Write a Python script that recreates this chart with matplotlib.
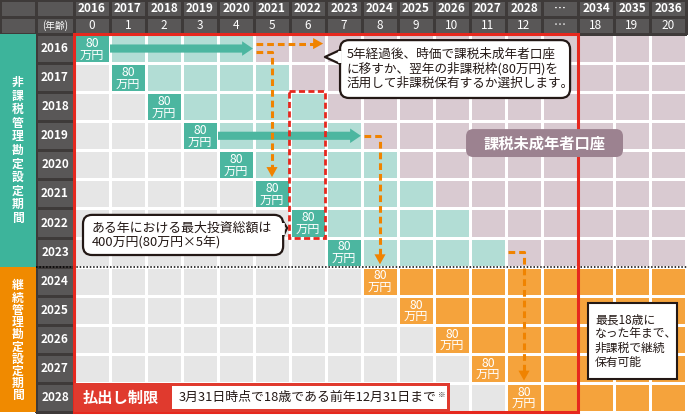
import numpy as np
import matplotlib
matplotlib.use("Agg")
import matplotlib.pyplot as plt
from matplotlib.colors import ListedColormap
from matplotlib.patches import Rectangle, FancyBboxPatch, Polygon, FancyArrow, FancyArrowPatch

plt.rcParams['font.family'] = ['Noto Sans CJK JP', 'DejaVu Sans']

# ------------------------------------------------------------------
# data
# ------------------------------------------------------------------
row_years = [2016, 2017, 2018, 2019, 2020, 2021, 2022, 2023, 2024, 2025, 2026, 2027, 2028]
col_years = ['2016', '2017', '2018', '2019', '2020', '2021', '2022', '2023', '2024',
             '2025', '2026', '2027', '2028', '…', '2034', '2035', '2036']
col_ages = ['0', '1', '2', '3', '4', '5', '6', '7', '8', '9', '10', '11', '12',
            '…', '18', '19', '20']
nisa_rows = [2016, 2017, 2018, 2019, 2020, 2021, 2022, 2023]      # 非課税管理勘定
rollover_rows = [2024, 2025, 2026, 2027, 2028]                     # 継続管理勘定
tax_free_years = 5
annual_limit = '80\n万円'
teal_arrow_rows = [2016, 2019]
rollover_pairs = [(2016, 2021), (2019, 2024), (2023, 2028)]
taxable_move_row = 2016
window_col = '2022'
window_rows = [2018, 2019, 2020, 2021, 2022]
age_limit_col = '2034'

# ------------------------------------------------------------------
# colours / layout
# ------------------------------------------------------------------
C_GRAY = '#e6e6e6'
C_TEAL_LIGHT = '#b2ddd5'
C_MAUVE = '#d9cad1'
C_ORANGE = '#f5a33c'
C_TEAL_BOX = '#4cb6a0'
C_HEAD = '#595757'
C_HEAD_LINE = '#3e3a39'
C_RED = '#e6281e'
C_DASH = '#f08300'
C_LABEL = '#9c8290'
C_INK = '#231815'

CW, RH = 36.0, 29.08          # cell size in px
X0, Y0 = 74.0, 34.0           # top-left of grid in px
W, H = 688, 415

n_rows, n_cols = len(row_years), len(col_years)

fig = plt.figure(figsize=(W / 100, H / 100), dpi=100)
ax = fig.add_axes([0, 0, 1, 1])
ax.set_xlim(-X0 / CW, (W - X0) / CW)
ax.set_ylim((H - Y0) / RH, -Y0 / RH)
ax.axis('off')

# cell states: 0 gray, 1 light teal, 2 mauve, 3 orange, 4 contribution box
state = np.zeros((n_rows, n_cols))
for y in nisa_rows:
    i = row_years.index(y)
    state[i, i] = 4
    state[i, i + 1:i + tax_free_years] = 1
    state[i, i + tax_free_years:] = 2
for y in rollover_rows:
    i = row_years.index(y)
    state[i, i:] = 3

cmap = ListedColormap([C_GRAY, C_TEAL_LIGHT, C_MAUVE, C_ORANGE, C_TEAL_BOX])
ax.pcolormesh(np.arange(n_cols + 1), np.arange(n_rows + 1), state, cmap=cmap,
              vmin=-0.5, vmax=4.5, edgecolors='white', linewidth=1.0)

# header
hx = np.concatenate([[-X0 / CW, -38 / CW], np.arange(n_cols + 1)])
hy = [-Y0 / RH, -17 / RH, 0]
ax.pcolormesh(hx, hy, np.zeros((2, len(hx) - 1)), cmap=ListedColormap([C_HEAD]),
              edgecolors=C_HEAD_LINE, linewidth=0.8)
for j, (yr, ag) in enumerate(zip(col_years, col_ages)):
    ax.text(j + 0.5, (hy[0] + hy[1]) / 2, yr, color='white', fontsize=8.5,
            fontweight='bold', ha='center', va='center')
    ax.text(j + 0.5, (hy[1] + hy[2]) / 2, ag, color='white', fontsize=8.5,
            ha='center', va='center')
ax.text(-19 / CW, (hy[1] + hy[2]) / 2, '(年齢)', color='white', fontsize=7,
        ha='center', va='center')

# row labels
ax.pcolormesh([-38 / CW, 0], np.arange(n_rows + 1), np.zeros((n_rows, 1)),
              cmap=ListedColormap([C_HEAD]), edgecolors=C_HEAD_LINE, linewidth=0.8)
for i, y in enumerate(row_years):
    ax.text(-19 / CW, i + 0.5, str(y), color='white', fontsize=8.5,
            fontweight='bold', ha='center', va='center')

# left vertical labels (one character per line)
n_nisa = len(nisa_rows)
ax.add_patch(Rectangle((-X0 / CW, 0), 36 / CW, n_nisa, facecolor='#3db49b',
                       edgecolor='none'))
ax.add_patch(Rectangle((-X0 / CW, n_nisa), 36 / CW, n_rows - n_nisa,
                       facecolor='#f08a00', edgecolor='none'))


def vertical_label(label, yc, step):
    n = len(label)
    for k, ch in enumerate(label):
        ax.text(-56 / CW, yc + (k - (n - 1) / 2) * step, ch, color='white',
                fontsize=8.5, fontweight='bold', ha='center', va='center')


vertical_label('非課税管理勘定設定期間', n_nisa / 2, 13.6 / RH)
vertical_label('継続管理勘定設定期間', (n_nisa + n_rows) / 2 + 0.05, 12.2 / RH)

# contribution labels
for i in range(n_rows):
    ax.text(i + 0.5, i + 0.52, annual_limit, color='white', fontsize=8.8,
            ha='center', va='center', linespacing=0.86)

# dotted separator between periods
ax.plot([-38 / CW, (W - X0) / CW], [n_nisa, n_nisa], color='black', lw=1.1,
        ls=(0, (1, 1.2)), zorder=4)

# thick teal arrows
for y in teal_arrow_rows:
    i = row_years.index(y)
    ax.add_patch(FancyArrow(i + 1, i + 0.5, tax_free_years - 1 - 0.03, 0,
                            width=0.28, head_width=0.5, head_length=0.3,
                            length_includes_head=True, color=C_TEAL_BOX,
                            lw=0, zorder=3))


def orange_head(x0, y0, x1, y1):
    ax.add_patch(FancyArrowPatch((x0, y0), (x1, y1),
                                 arrowstyle='-|>,head_length=0.45,head_width=0.25',
                                 mutation_scale=16, color=C_DASH, lw=0,
                                 shrinkA=0, shrinkB=0, zorder=6))


dash = (0, (2.2, 1.3))
# move to taxable account
i = row_years.index(taxable_move_row)
end = i + tax_free_years + 1.92
ax.plot([i + tax_free_years + 0.05, end - 0.2], [i + 0.33, i + 0.33],
        color=C_DASH, lw=2.2, ls=dash, zorder=5)
orange_head(end - 0.3, i + 0.33, end, i + 0.33)

# roll-over / next-year arrows
for a, b in rollover_pairs:
    i, j = row_years.index(a), row_years.index(b)
    yy = i + (0.62 if a == taxable_move_row else 0.5)
    tip = j - 0.08
    ax.plot([i + tax_free_years + 0.05, j + 0.5, j + 0.5], [yy, yy, tip - 0.25],
            color=C_DASH, lw=2.2, ls=dash, zorder=5)
    orange_head(j + 0.5, tip - 0.4, j + 0.5, tip)

# red dashed window
c = col_years.index(window_col)
r0 = row_years.index(window_rows[0])
ax.add_patch(Rectangle((c - 0.03, r0 - 0.04), 1.0, len(window_rows) + 0.05,
                       facecolor='none', edgecolor=C_RED, lw=2.0,
                       ls=(0, (2.2, 1.2)), zorder=5))

# red frame up to age 18
c18 = col_years.index(age_limit_col)
ax.add_patch(Rectangle((0, 0), c18, n_rows, facecolor='none', edgecolor=C_RED,
                       lw=2.2, zorder=7))

# bottom band
ax.add_patch(Rectangle((0, n_rows - 1), 10.45, 1, facecolor='#e03a2e',
                       edgecolor='none', zorder=7))
ax.add_patch(Rectangle((2.72, n_rows - 0.9), 7.64, 0.8, facecolor='white',
                       edgecolor='none', zorder=8))
ax.text(1.3, n_rows - 0.5, '払出し制限', color='white', fontsize=11,
        fontweight='bold', ha='center', va='center', zorder=9)
ax.text(2.92, n_rows - 0.5, '3月31日時点で18歳である前年12月31日まで',
        color=C_INK, fontsize=9.3, ha='left', va='center', zorder=9)
ax.text(10.12, n_rows - 0.57, '※', color=C_INK, fontsize=5.5, ha='left',
        va='center', zorder=9)


def callout(x0, y0, x1, y1, tip, base0, base1, side):
    ax.add_patch(FancyBboxPatch((x0, y0), x1 - x0, y1 - y0,
                                boxstyle='round,pad=0,rounding_size=0.25',
                                facecolor='white', edgecolor=C_INK, lw=1.6,
                                mutation_aspect=CW / RH, zorder=10))
    bx = x0 if side == 'left' else x1
    ax.add_patch(Polygon([(bx, base0), tip, (bx, base1)], closed=True,
                         facecolor='white', edgecolor=C_INK, lw=1.6,
                         joinstyle='round', zorder=11))
    ax.plot([bx, bx], [base0 + 0.04, base1 - 0.04], color='white', lw=2.6,
            zorder=12, solid_capstyle='butt')


callout(7.39, 0.21, 13.78, 2.2, (6.97, 0.79), 0.55, 1.03, 'left')
ax.text(7.58, 1.2, '5年経過後、時価で課税未成年者口座\nに移すか、翌年の非課税枠(80万円)を\n'
        '活用して非課税保有するか選択します。', fontsize=9.1, color=C_INK,
        ha='left', va='center', linespacing=1.15, zorder=13)

callout(0.25, 6.22, 5.81, 7.6, (5.92, 6.67), 6.46, 6.95, 'right')
ax.text(0.48, 6.93, 'ある年における最大投資総額は\n400万円(80万円×5年)', fontsize=9.3,
        color=C_INK, ha='left', va='center', linespacing=1.1, zorder=13)

# taxable account label
ax.add_patch(FancyBboxPatch((10.89, 3.27), 4.36, 0.96,
                            boxstyle='round,pad=0,rounding_size=0.2',
                            facecolor=C_LABEL, edgecolor='none',
                            mutation_aspect=CW / RH, zorder=10))
ax.text(13.07, 3.76, '課税未成年者口座', color='white', fontsize=11,
        fontweight='bold', ha='center', va='center', zorder=11)

# note box
ax.add_patch(Rectangle((14.28, 9.25), 2.47, 2.61, facecolor='white',
                       edgecolor=C_INK, lw=1.5, zorder=10))
ax.text(14.47, 10.56, '最長18歳に\nなった年まで、\n非課税で継続\n保有可能', fontsize=8.5,
        color=C_INK, ha='left', va='center', linespacing=1.12, zorder=11)

fig.savefig('out.png', dpi=100)
